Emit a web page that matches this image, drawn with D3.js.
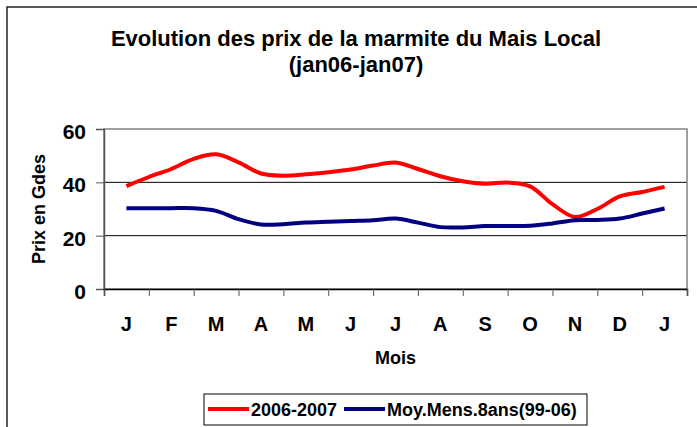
<!DOCTYPE html>
<html>
<head>
<meta charset="utf-8">
<script src="https://cdn.jsdelivr.net/npm/d3@7"></script>
<style>
  body { margin: 0; background: #fff; }
  svg { display: block; font-family: "Liberation Sans", Arial, sans-serif; font-weight: bold; }
</style>
</head>
<body>
<svg id="chart" width="697" height="427"></svg>
<script>
// month labels (jan06 -> jan07)
const months = ["J", "F", "M", "A", "M", "J", "J", "A", "S", "O", "N", "D", "J"];
// semi-monthly prices
const prix2006 = [38.6, 42, 45, 48.8, 50.5, 47.5, 43.3, 42.5, 43, 43.8, 44.8, 46.3, 47.4,
  45, 42.3, 40.4, 39.5, 39.9, 38.5, 31.8, 27, 30, 34.7, 36.4, 38.3];
const moyMens = [30.3, 30.3, 30.3, 30.3, 29.3, 26.2, 24.2, 24.3, 24.9, 25.2, 25.5, 25.8, 26.4,
  24.9, 23.2, 23.1, 23.6, 23.6, 23.7, 24.6, 25.8, 25.9, 26.4, 28.3, 30.2];
const yTicks = [0, 20, 40, 60];
const seriesNames = ["2006-2007", "Moy.Mens.8ans(99-06)"];
const colors = ["#ff0000", "#000080"];

const margin = { top: 129, right: 10, bottom: 138, left: 104 };
const width = 697, height = 427;
const svg = d3.select("#chart");

// chart border
svg.append("rect")
  .attr("x", 7).attr("y", 7)
  .attr("width", 720).attr("height", 440)
  .attr("fill", "none").attr("stroke", "#222").attr("stroke-width", 1.5);

// scales
const x = d3.scaleLinear().domain([0, months.length]).range([margin.left, width - margin.right]);
const y = d3.scaleLinear().domain([0, 60]).range([height - margin.bottom, margin.top]);

// gridlines
svg.append("g")
  .selectAll("line")
  .data(yTicks.filter(d => d > 0 && d < 60))
  .join("line")
  .attr("x1", x(0)).attr("x2", x(months.length))
  .attr("y1", d => y(d)).attr("y2", d => y(d))
  .attr("stroke", "#000").attr("stroke-width", 1);

// plot border
svg.append("rect")
  .attr("x", x(0)).attr("y", y(60))
  .attr("width", x(months.length) - x(0)).attr("height", y(0) - y(60))
  .attr("fill", "none").attr("stroke", "#808080").attr("stroke-width", 1.5);

// y axis
const yAxis = svg.append("g")
  .attr("transform", "translate(" + x(0) + ",0)")
  .call(d3.axisLeft(y).tickValues(yTicks).tickSize(8).tickPadding(10));
yAxis.select(".domain").attr("stroke", "#555").attr("stroke-width", 1.5);
yAxis.selectAll(".tick line").attr("stroke", "#555");
yAxis.selectAll("text")
  .attr("font-size", 21).attr("font-family", "Liberation Sans, Arial")
  .attr("font-weight", "bold").attr("fill", "#000").attr("dy", "0.45em");

// x axis: ticks on month boundaries
const xAxis = svg.append("g")
  .attr("transform", "translate(0," + y(0) + ")")
  .call(d3.axisBottom(x).tickValues(d3.range(months.length + 1)).tickSize(7).tickFormat(""));
xAxis.select(".domain").attr("stroke", "#000").attr("stroke-width", 1.5);
xAxis.selectAll(".tick line").attr("stroke", "#555");

svg.append("g")
  .selectAll("text")
  .data(months)
  .join("text")
  .attr("x", (d, i) => x(i + 0.5))
  .attr("y", 331)
  .attr("text-anchor", "middle")
  .attr("font-size", 20)
  .text(d => d);

// axis titles
svg.append("text")
  .attr("x", (x(0) + x(months.length)) / 2)
  .attr("y", 364)
  .attr("text-anchor", "middle")
  .attr("font-size", 18)
  .text("Mois");

svg.append("text")
  .attr("transform", "translate(45," + (y(0) + y(60)) / 2 + ") rotate(-90)")
  .attr("text-anchor", "middle")
  .attr("font-size", 18)
  .text("Prix en Gdes");

// title
svg.append("text")
  .attr("x", 356).attr("y", 46)
  .attr("text-anchor", "middle")
  .attr("font-size", 22)
  .text("Evolution des prix de la marmite du Mais Local");
svg.append("text")
  .attr("x", 356).attr("y", 72)
  .attr("text-anchor", "middle")
  .attr("font-size", 22)
  .text("(jan06-jan07)");

// lines
const line = d3.line()
  .x((d, i) => x(0.5 + i / 2))
  .y(d => y(d))
  .curve(d3.curveCatmullRom.alpha(0.5));

[prix2006, moyMens].forEach((s, k) => {
  svg.append("path")
    .datum(s)
    .attr("fill", "none")
    .attr("stroke", colors[k])
    .attr("stroke-width", 4)
    .attr("stroke-linejoin", "round")
    .attr("d", line);
});

// legend
const legend = svg.append("g");
legend.append("rect")
  .attr("x", 204).attr("y", 394)
  .attr("width", 383).attr("height", 31)
  .attr("fill", "#fff").attr("stroke", "#000").attr("stroke-width", 1);

const legendX = [208, 344];
seriesNames.forEach((name, k) => {
  legend.append("line")
    .attr("x1", legendX[k]).attr("x2", legendX[k] + 41)
    .attr("y1", 409).attr("y2", 409)
    .attr("stroke", colors[k]).attr("stroke-width", 4);
  legend.append("text")
    .attr("x", legendX[k] + 43).attr("y", 416)
    .attr("font-size", 18)
    .text(name);
});
</script>
</body>
</html>
